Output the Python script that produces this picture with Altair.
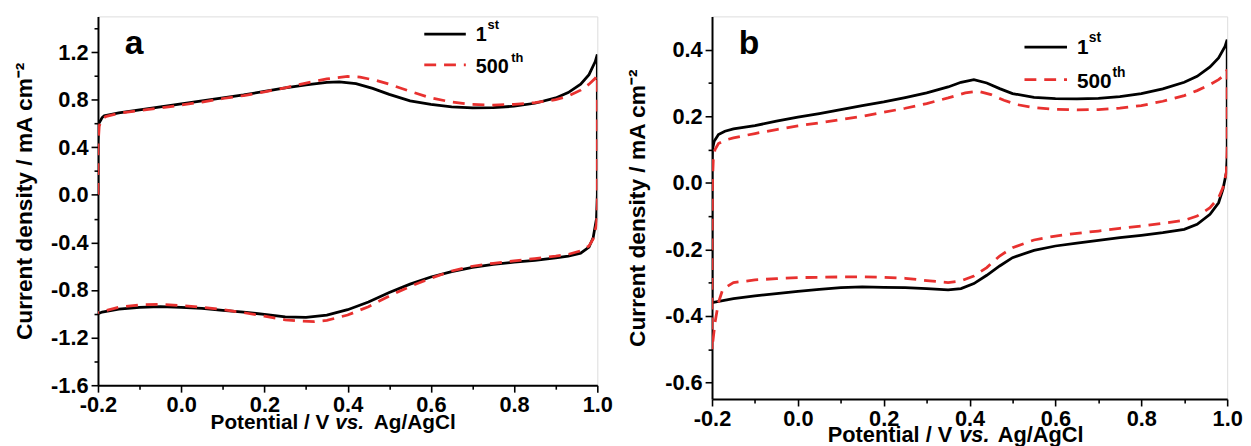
import altair as alt
import pandas as pd

FONT = "Liberation Sans"
RED = "#e8312f"

# ---- panel a: CV, 1st cycle (black) ----
a1_E = [-0.2, -0.2, -0.198, -0.19, -0.185, -0.15, -0.1, -0.05, 0.0, 0.05, 0.1, 0.15, 0.2, 0.25, 0.3,
        0.35, 0.38, 0.42, 0.46, 0.5, 0.55, 0.6, 0.65, 0.7, 0.75, 0.8, 0.85, 0.9, 0.93, 0.96, 0.98,
        0.995, 1.0, 1.0, 1.0, 0.998, 0.99, 0.98, 0.96, 0.93, 0.9, 0.85, 0.8, 0.75, 0.7, 0.65, 0.6,
        0.55, 0.5, 0.45, 0.4, 0.35, 0.3, 0.25, 0.2, 0.15, 0.1, 0.05, 0.0, -0.05, -0.1, -0.15, -0.19, -0.2]
a1_j = [0.0, 0.45, 0.6, 0.65, 0.665, 0.69, 0.715, 0.74, 0.765, 0.79, 0.815, 0.84, 0.87, 0.9, 0.925,
        0.945, 0.95, 0.935, 0.895, 0.845, 0.79, 0.76, 0.74, 0.732, 0.733, 0.745, 0.77, 0.815, 0.86, 0.93, 1.01,
        1.12, 1.18, 0.8, 0.0, -0.2, -0.36, -0.44, -0.49, -0.515, -0.53, -0.55, -0.565, -0.585, -0.61, -0.645, -0.69,
        -0.75, -0.82, -0.9, -0.965, -1.01, -1.03, -1.025, -1.005, -0.985, -0.97, -0.955, -0.945, -0.94, -0.945, -0.96, -0.985, -1.0]

# ---- panel a: CV, 500th cycle (red dashed) ----
a500_E = [-0.2, -0.2, -0.197, -0.19, -0.18, -0.15, -0.1, -0.05, 0.0, 0.05, 0.1, 0.15, 0.2, 0.25, 0.3,
          0.35, 0.4, 0.43, 0.47, 0.5, 0.55, 0.6, 0.65, 0.7, 0.75, 0.8, 0.85, 0.9, 0.93, 0.96, 0.98,
          0.995, 1.0, 1.0, 1.0, 0.998, 0.99, 0.98, 0.96, 0.93, 0.9, 0.85, 0.8, 0.75, 0.7, 0.65, 0.6,
          0.55, 0.5, 0.45, 0.4, 0.35, 0.32, 0.28, 0.25, 0.2, 0.15, 0.1, 0.05, 0.0, -0.05, -0.1, -0.15, -0.2]
a500_j = [0.0, 0.4, 0.58, 0.64, 0.66, 0.685, 0.71, 0.73, 0.755, 0.78, 0.81, 0.835, 0.865, 0.9, 0.94,
          0.975, 0.995, 0.99, 0.96, 0.93, 0.87, 0.815, 0.78, 0.76, 0.755, 0.76, 0.775, 0.8, 0.83, 0.88, 0.93,
          0.98, 1.01, 0.5, -0.1, -0.25, -0.37, -0.43, -0.47, -0.5, -0.515, -0.535, -0.555, -0.575, -0.6, -0.64, -0.7,
          -0.77, -0.85, -0.94, -1.01, -1.055, -1.065, -1.06, -1.05, -1.02, -0.99, -0.965, -0.945, -0.93, -0.92, -0.925, -0.945, -0.99]

# ---- panel b: CV, 1st cycle (black) ----
b1_E = [-0.2, -0.2, -0.199, -0.195, -0.185, -0.17, -0.15, -0.1, -0.05, 0.0, 0.05, 0.1, 0.15, 0.2, 0.25,
        0.3, 0.35, 0.38, 0.41, 0.44, 0.47, 0.5, 0.55, 0.6, 0.65, 0.7, 0.75, 0.8, 0.85, 0.9, 0.93,
        0.96, 0.98, 0.995, 1.0, 1.0, 1.0, 0.998, 0.99, 0.98, 0.96, 0.93, 0.9, 0.85, 0.8, 0.75, 0.7,
        0.65, 0.6, 0.55, 0.5, 0.47, 0.44, 0.41, 0.38, 0.35, 0.3, 0.25, 0.2, 0.15, 0.1, 0.05, 0.0,
        -0.05, -0.1, -0.15, -0.2]
b1_j = [-0.36, 0.05, 0.1, 0.125, 0.145, 0.155, 0.162, 0.172, 0.185, 0.197, 0.208, 0.22, 0.232, 0.243, 0.256,
        0.27, 0.288, 0.302, 0.31, 0.3, 0.283, 0.268, 0.257, 0.253, 0.252, 0.254, 0.259, 0.268, 0.282, 0.302, 0.32,
        0.348, 0.375, 0.41, 0.43, 0.2, 0.08, 0.03, -0.02, -0.06, -0.095, -0.125, -0.14, -0.15, -0.158, -0.165, -0.173,
        -0.181, -0.19, -0.203, -0.225, -0.25, -0.278, -0.303, -0.318, -0.322, -0.318, -0.315, -0.314, -0.313, -0.315, -0.32, -0.326,
        -0.333, -0.34, -0.348, -0.36]

# ---- panel b: CV, 500th cycle (red dashed) ----
b500_E = [-0.2, -0.2, -0.199, -0.197, -0.193, -0.185, -0.17, -0.15, -0.1, -0.05, 0.0, 0.05, 0.1, 0.15, 0.2,
          0.25, 0.3, 0.35, 0.39, 0.42, 0.45, 0.48, 0.51, 0.55, 0.6, 0.65, 0.7, 0.75, 0.8, 0.85, 0.9,
          0.93, 0.96, 0.98, 0.995, 1.0, 1.0, 0.998, 0.99, 0.98, 0.96, 0.93, 0.9, 0.85, 0.8, 0.75, 0.7,
          0.65, 0.6, 0.55, 0.5, 0.47, 0.44, 0.41, 0.38, 0.35, 0.3, 0.25, 0.2, 0.15, 0.1, 0.05, 0.0,
          -0.05, -0.1, -0.15, -0.175, -0.185, -0.193, -0.2]
b500_j = [-0.5, -0.2, 0.0, 0.07, 0.1, 0.118, 0.128, 0.135, 0.148, 0.16, 0.171, 0.18, 0.19, 0.2, 0.212,
          0.224, 0.238, 0.255, 0.27, 0.275, 0.265, 0.248, 0.235, 0.226, 0.221, 0.219, 0.22, 0.224, 0.232, 0.245, 0.262,
          0.277, 0.295, 0.31, 0.325, 0.34, 0.1, 0.03, -0.015, -0.045, -0.075, -0.1, -0.113, -0.122, -0.13, -0.137, -0.145,
          -0.152, -0.16, -0.172, -0.195, -0.22, -0.255, -0.28, -0.295, -0.3, -0.294, -0.287, -0.284, -0.283, -0.283, -0.284, -0.285,
          -0.288, -0.292, -0.3, -0.32, -0.36, -0.42, -0.5]

# axis ticks (majors labelled, minors blank)
x_ticks = [-0.2, -0.1, 0.0, 0.1, 0.2, 0.3, 0.4, 0.5, 0.6, 0.7, 0.8, 0.9, 1.0]
a_y_ticks = [-1.6, -1.4, -1.2, -1.0, -0.8, -0.6, -0.4, -0.2, 0.0, 0.2, 0.4, 0.6, 0.8, 1.0, 1.2, 1.4]
b_y_ticks = [-0.6, -0.5, -0.4, -0.3, -0.2, -0.1, 0.0, 0.1, 0.2, 0.3, 0.4]

Y_TITLE = "Current density / mA cm\u207b\u00b2"


def make_axis(values, every, label_size, title=None, title_size=21, title_pad=16):
    major = f"round(datum.value*10) % {every} == 0"
    kw = dict(
        values=values,
        labelExpr=f"{major} ? (datum.value < -0.001 ? '-' : '') + format(abs(datum.value), '.1f') : ''",
        tickSize={"condition": {"test": major, "value": 7}, "value": 4},
        grid=False, labelFont=FONT, labelFontSize=label_size, labelFontWeight="bold",
        labelColor="black", labelPadding=3, labelFlush=False, labelOverlap=False,
        domainColor="black", domainWidth=2, tickColor="black", tickWidth=1.6,
    )
    if title:
        kw.update(title=title, titleFont=FONT, titleFontSize=title_size, titleFontWeight="bold",
                  titleColor="black", titlePadding=title_pad)
    else:
        kw.update(title=None)
    return alt.Axis(**kw)


def cv_line(E, j, color, xdom, ydom, xaxis, yaxis, dash=None):
    df = pd.DataFrame({"E": E, "j": j, "i": list(range(len(E)))})
    kw = dict(color=color, strokeWidth=2.8, clip=True)
    if dash:
        kw["strokeDash"] = dash
    return alt.Chart(df).mark_line(**kw).encode(
        x=alt.X("E:Q", scale=alt.Scale(domain=xdom, nice=False, zero=False), axis=xaxis),
        y=alt.Y("j:Q", scale=alt.Scale(domain=ydom, nice=False, zero=False), axis=yaxis),
        order="i:Q",
    )


def note(s, x, y, size, align="left", italic=False):
    return alt.Chart(pd.DataFrame({"s": [s]})).mark_text(
        font=FONT, fontSize=size, fontWeight="bold", fontStyle="italic" if italic else "normal",
        align=align, baseline="alphabetic", color="black",
    ).encode(text="s:N", x=alt.value(x), y=alt.value(y))


def key(x, x2, y, color, dash=None):
    kw = dict(color=color, strokeWidth=2.8)
    if dash:
        kw["strokeDash"] = dash
    return alt.Chart(pd.DataFrame({"k": [0]})).mark_rule(**kw).encode(
        x=alt.value(x), x2=alt.value(x2), y=alt.value(y))


def panel(s1, s500, letter, ydom, yticks, every, W, H, fs, leg, xt):
    xdom = [-0.2, 1.0]
    xaxis = make_axis(x_ticks, 2, fs["tick"])
    yaxis = make_axis(yticks, every, fs["tick"], Y_TITLE, fs["ytitle"], fs["tpad"])
    lx, lx2, ly1, ly2 = leg
    layers = [
        cv_line(s1[0], s1[1], "black", xdom, ydom, xaxis, yaxis),
        cv_line(s500[0], s500[1], RED, xdom, ydom, xaxis, yaxis, dash=[12, 8]),
        note(letter, 27, 38, 34),
        key(lx, lx2, ly1, "black"),
        key(lx, lx2, ly2, RED, dash=[12, 8]),
        note("1", lx2 + 10, ly1 + 7, fs["leg"]),
        note("st", lx2 + 22, ly1 - 5, fs["sup"]),
        note("500", lx2 + 10, ly2 + 8, fs["leg"]),
        note("th", lx2 + 46, ly2 - 3, fs["sup"]),
        note("Potential / V", xt[0], H + xt[3], fs["title"], align="right"),
        note("vs.", xt[1], H + xt[3], fs["title"], italic=True),
        note("Ag/AgCl", xt[2], H + xt[3], fs["title"]),
    ]
    return alt.layer(*layers).properties(width=W, height=H)


chart_a = panel((a1_E, a1_j), (a500_E, a500_j), "a", [-1.6, 1.5], a_y_ticks, 4, 505, 373,
                {"tick": 22, "title": 21, "ytitle": 23, "tpad": 14, "leg": 20, "sup": 13},
                (330, 372, 18, 49), (234, 240, 279, 44))
chart_b = panel((b1_E, b1_j), (b500_E, b500_j), "b", [-0.65, 0.5], b_y_ticks, 2, 521, 387,
                {"tick": 22, "title": 22, "ytitle": 23, "tpad": 15, "leg": 21, "sup": 14},
                (316, 359, 31, 64), (243, 250, 289, 43))

chart = alt.hconcat(chart_a, chart_b, spacing=13).properties(
    padding={"left": 5, "top": 5, "right": 0, "bottom": 0}
).configure_view(stroke="black", strokeWidth=2).configure(background="white")

chart.save("out.html", embed_options={"renderer": "svg", "actions": False})
